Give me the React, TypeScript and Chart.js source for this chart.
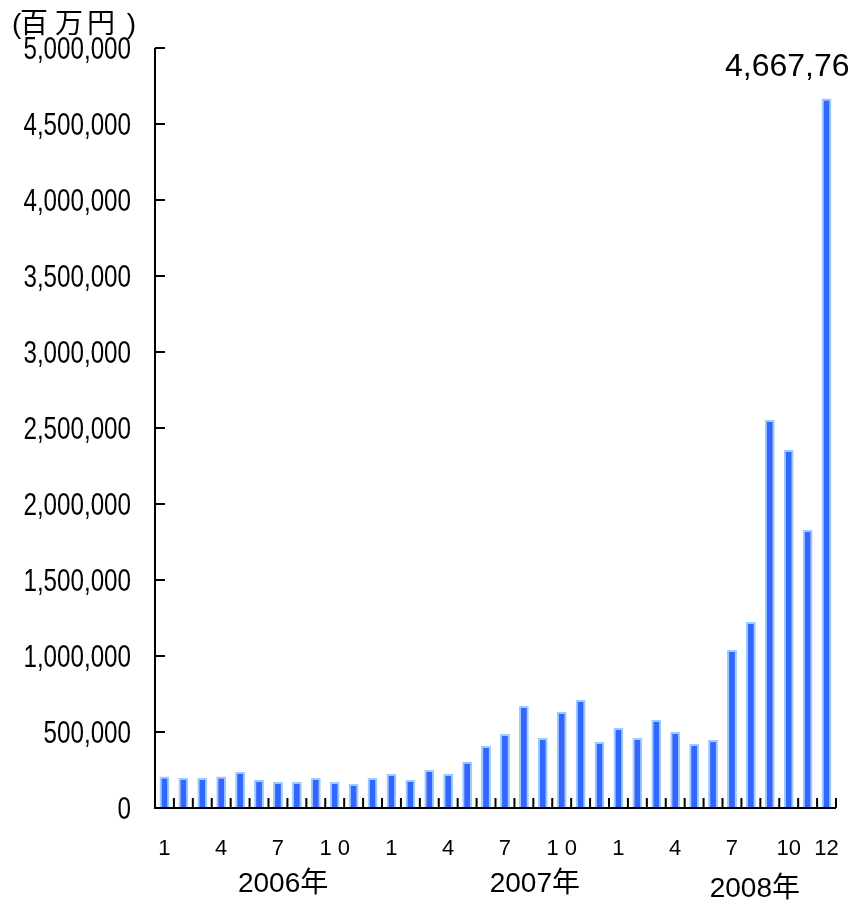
import React, { useEffect, useRef } from "react";
import { Chart, registerables } from "chart.js";

Chart.register(...registerables);

const categories: string[] = [
  "2006-1", "2006-2", "2006-3", "2006-4", "2006-5", "2006-6", "2006-7", "2006-8", "2006-9", "2006-10", "2006-11", "2006-12",
  "2007-1", "2007-2", "2007-3", "2007-4", "2007-5", "2007-6", "2007-7", "2007-8", "2007-9", "2007-10", "2007-11", "2007-12",
  "2008-1", "2008-2", "2008-3", "2008-4", "2008-5", "2008-6", "2008-7", "2008-8", "2008-9", "2008-10", "2008-11", "2008-12",
];

const values: number[] = [
  208000, 197000, 197000, 208000, 237000, 184000, 171000, 171000, 197000, 171000, 158000, 197000,
  224000, 184000, 250000, 224000, 305000, 408000, 487000, 671000, 461000, 632000, 711000, 434000,
  526000, 461000, 579000, 500000, 421000, 447000, 1040000, 1224000, 2553000, 2355000, 1829000, 4667760,
];

// month labels shown under the axis (index -> text)
const monthLabelIndex: number[] = [0, 3, 6, 9, 12, 15, 18, 21, 24, 27, 30, 33, 35];
const monthLabelText: string[] = ["1", "4", "7", "1 0", "1", "4", "7", "1 0", "1", "4", "7", "10", "12"];

const yearLabels: string[] = ["2006年", "2007年", "2008年"];
const yearLabelPos: number[] = [6.27, 19.58, 31.21];

const yTicks: number[] = [0, 500000, 1000000, 1500000, 2000000, 2500000, 3000000, 3500000, 4000000, 4500000, 5000000];

const peakLabel = "4,667,760";

const fmt = (v: number) => v.toLocaleString("en-US");

const FONT = "'Liberation Sans', Arial, sans-serif";
const CJK = "'Liberation Sans', 'Noto Sans CJK JP', sans-serif";

const overlay = {
  id: "overlay",
  afterDraw(chart: any) {
    const ctx = chart.ctx as CanvasRenderingContext2D;
    const xs = chart.scales.x;
    const ys = chart.scales.y;
    const area = chart.chartArea;
    ctx.save();
    ctx.strokeStyle = "#000";
    ctx.fillStyle = "#000";
    // axes
    ctx.lineWidth = 2;
    ctx.beginPath();
    ctx.moveTo(area.left, area.top);
    ctx.lineTo(area.left, area.bottom);
    ctx.lineTo(area.right, area.bottom);
    ctx.stroke();
    // y ticks + labels
    for (const t of yTicks) {
      const y = ys.getPixelForValue(t);
      ctx.beginPath();
      ctx.moveTo(area.left, y);
      ctx.lineTo(area.left + 10, y);
      ctx.stroke();
      ctx.save();
      ctx.translate(131, y + 2);
      ctx.scale(0.78, 1);
      ctx.font = `31px ${FONT}`;
      ctx.textAlign = "right";
      ctx.textBaseline = "middle";
      ctx.fillText(fmt(t), 0, 0);
      ctx.restore();
    }
    // x ticks at category boundaries
    const n = categories.length;
    const half = (xs.getPixelForValue(1) - xs.getPixelForValue(0)) / 2;
    for (let i = 0; i <= n; i++) {
      const x = i < n ? xs.getPixelForValue(i) - half : xs.getPixelForValue(n - 1) + half;
      ctx.beginPath();
      ctx.moveTo(x, area.bottom);
      ctx.lineTo(x, area.bottom - 10);
      ctx.stroke();
    }
    // month labels
    ctx.font = `22px ${FONT}`;
    ctx.textAlign = "center";
    ctx.textBaseline = "middle";
    monthLabelIndex.forEach((idx, k) => {
      ctx.fillText(monthLabelText[k], xs.getPixelForValue(idx), 849);
    });
    // year labels
    yearLabels.forEach((txt, k) => {
      const y = k === 2 ? 889 : 884;
      ctx.font = `28px ${CJK}`;
      ctx.fillText(txt, xs.getPixelForValue(yearLabelPos[k]), y);
    });
    // peak value label
    ctx.font = `32px ${FONT}`;
    ctx.textAlign = "left";
    ctx.textBaseline = "alphabetic";
    ctx.fillText(peakLabel, 725, 76);
    // unit label
    ctx.font = `28px ${CJK}`;
    ctx.textBaseline = "middle";
    ctx.fillText("(", 12, 25);
    ctx.fillText("百", 20, 25);
    ctx.fillText("万", 55, 25);
    ctx.fillText("円", 87, 25);
    ctx.fillText(" )", 119, 25);
    ctx.restore();
  },
};

export default function App() {
  const ref = useRef<HTMLCanvasElement | null>(null);
  useEffect(() => {
    if (!ref.current) return;
    const chart = new Chart(ref.current, {
      type: "bar",
      data: {
        labels: categories,
        datasets: [
          {
            data: values,
            backgroundColor: "#3366FF",
            borderColor: "#99CCFF",
            borderWidth: 2,
            barPercentage: 0.52,
            categoryPercentage: 1,
          },
        ],
      },
      options: {
        responsive: false,
        animation: false,
        layout: { padding: { left: 155, right: 12, top: 48, bottom: 98 } },
        plugins: { legend: { display: false }, tooltip: { enabled: false }, title: { display: false } },
        scales: {
          x: { display: false, offset: true },
          y: { display: false, min: 0, max: 5000000, ticks: { stepSize: 500000 } },
        },
      },
      plugins: [overlay],
    });
    return () => chart.destroy();
  }, []);
  return (
    <div style={{ position: "absolute", left: 0, top: 0, width: 848, height: 906, background: "#fff" }}>
      <canvas ref={ref} width={848} height={906} style={{ display: "block" }} />
    </div>
  );
}
